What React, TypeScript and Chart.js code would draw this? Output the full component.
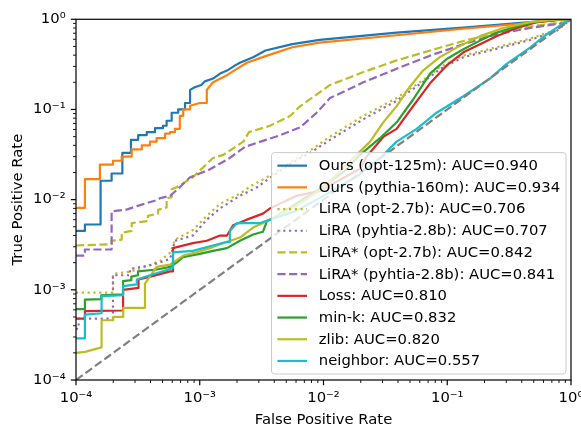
import { useEffect, useRef } from "react";
import { Chart, registerables } from "chart.js";

Chart.register(...registerables);

type Pt = [number, number];

// ROC points (false positive rate, true positive rate)
const OURS_OPT: Pt[] = [
  [1e-4, 0.0045], [1.18e-4, 0.0045], [1.18e-4, 0.0053], [1.58e-4, 0.0053], [1.58e-4, 0.0162],
  [1.94e-4, 0.0162], [1.94e-4, 0.0195], [2.37e-4, 0.0195], [2.37e-4, 0.033], [2.78e-4, 0.033],
  [2.78e-4, 0.046], [3.18e-4, 0.046], [3.18e-4, 0.052], [3.73e-4, 0.052], [3.73e-4, 0.056],
  [4.35e-4, 0.056], [4.35e-4, 0.062], [5.04e-4, 0.062], [5.04e-4, 0.066], [5.4e-4, 0.066],
  [5.4e-4, 0.075], [5.93e-4, 0.075], [5.93e-4, 0.092], [6.7e-4, 0.092], [6.7e-4, 0.1],
  [7.6e-4, 0.1], [7.6e-4, 0.118], [8.35e-4, 0.118], [8.35e-4, 0.165], [9.1e-4, 0.176],
  [1.03e-3, 0.187], [1.1e-3, 0.205], [1.28e-3, 0.22], [1.46e-3, 0.25], [1.66e-3, 0.27],
  [1.95e-3, 0.31], [2.11e-3, 0.33], [2.7e-3, 0.38], [3.4e-3, 0.45], [5.6e-3, 0.53],
  [9.3e-3, 0.59], [0.039, 0.71], [0.135, 0.81], [0.467, 0.93], [0.8, 0.99], [1, 1],
];
const OURS_PYTHIA: Pt[] = [
  [1e-4, 0.0081], [1.18e-4, 0.0081], [1.18e-4, 0.0169], [1.56e-4, 0.0169], [1.56e-4, 0.0245],
  [1.99e-4, 0.0245], [1.99e-4, 0.027], [2.34e-4, 0.027], [2.34e-4, 0.03], [2.82e-4, 0.03],
  [2.82e-4, 0.036], [3.4e-4, 0.036], [3.4e-4, 0.04], [3.96e-4, 0.04], [3.96e-4, 0.044],
  [4.48e-4, 0.044], [4.48e-4, 0.048], [5.24e-4, 0.048], [5.24e-4, 0.054], [5.75e-4, 0.054],
  [5.75e-4, 0.056], [6.3e-4, 0.056], [6.3e-4, 0.061], [6.9e-4, 0.061], [6.9e-4, 0.085],
  [7.35e-4, 0.085], [7.35e-4, 0.1], [8.35e-4, 0.1], [8.35e-4, 0.11], [1e-3, 0.118],
  [1.14e-3, 0.118], [1.14e-3, 0.165], [1.28e-3, 0.2], [1.66e-3, 0.24], [1.98e-3, 0.28],
  [2.4e-3, 0.33], [3.4e-3, 0.39], [5.6e-3, 0.49], [9.3e-3, 0.55], [0.039, 0.665],
  [0.135, 0.785], [0.467, 0.91], [0.85, 0.99], [1, 1],
];
const LIRA_OPT: Pt[] = [
  [1e-4, 9.3e-4], [1.99e-4, 9.3e-4], [1.99e-4, 1.5e-3], [2.8e-4, 1.6e-3], [3.6e-4, 1.8e-3],
  [4.8e-4, 2.1e-3], [5.8e-4, 2.6e-3], [6.3e-4, 3.6e-3], [8.8e-4, 4.6e-3], [1.14e-3, 6.6e-3],
  [1.46e-3, 9e-3], [2.1e-3, 0.0116], [2.6e-3, 0.0142], [3.7e-3, 0.0185], [5.4e-3, 0.026],
  [7.8e-3, 0.035], [0.0113, 0.05], [0.021, 0.085], [0.039, 0.134], [0.0726, 0.24],
  [0.087, 0.295], [0.135, 0.395], [0.25, 0.49], [0.467, 0.61], [0.77, 0.77], [1, 1],
];
const LIRA_PYTHIA: Pt[] = [
  [1e-4, 3.7e-4], [1.05e-4, 3.7e-4], [1.05e-4, 4.8e-4], [1.99e-4, 4.8e-4], [1.99e-4, 1.45e-3],
  [2.73e-4, 1.45e-3], [2.73e-4, 1.7e-3], [4.2e-4, 1.9e-3], [5.75e-4, 2.2e-3], [6.3e-4, 3.5e-3],
  [8.8e-4, 4e-3], [1.14e-3, 6e-3], [1.46e-3, 8e-3], [2.1e-3, 0.011], [2.9e-3, 0.0137],
  [3.7e-3, 0.0175], [5.4e-3, 0.025], [7.8e-3, 0.033], [0.0113, 0.046], [0.021, 0.078],
  [0.039, 0.125], [0.0726, 0.23], [0.087, 0.28], [0.135, 0.38], [0.25, 0.47], [0.467, 0.59],
  [0.77, 0.75], [1, 1],
];
const LIRA_STAR_OPT: Pt[] = [
  [1e-4, 0.0031], [1.94e-4, 0.0032], [1.94e-4, 0.0035], [2.34e-4, 0.0036], [2.34e-4, 0.0043],
  [2.82e-4, 0.0045], [2.82e-4, 0.0055], [3.81e-4, 0.0058], [3.81e-4, 0.0066], [4.6e-4, 0.007],
  [4.6e-4, 0.0077], [5.4e-4, 0.0082], [5.4e-4, 0.0104], [5.93e-4, 0.0106], [5.93e-4, 0.013],
  [6.5e-4, 0.0137], [8.8e-4, 0.0177], [1.28e-3, 0.029], [1.55e-3, 0.0314], [2.25e-3, 0.044],
  [2.5e-3, 0.056], [3.7e-3, 0.066], [5.4e-3, 0.085], [6.5e-3, 0.109], [0.0113, 0.187],
  [0.021, 0.26], [0.039, 0.35], [0.0726, 0.45], [0.135, 0.575], [0.25, 0.71], [0.467, 0.83],
  [0.88, 0.93], [1, 1],
];
const LIRA_STAR_PYTHIA: Pt[] = [
  [1e-4, 0.0024], [1.18e-4, 0.0024], [1.18e-4, 0.0028], [1.94e-4, 0.0028], [1.94e-4, 0.0074],
  [2.6e-4, 0.0078], [3.3e-4, 0.0087], [4.4e-4, 0.0098], [4.8e-4, 0.0104], [5.75e-4, 0.011],
  [6.9e-4, 0.0137], [8.3e-4, 0.0176], [1.2e-3, 0.0216], [1.75e-3, 0.029], [2.33e-3, 0.0386],
  [3.1e-3, 0.044], [4.45e-3, 0.0517], [6.5e-3, 0.0635], [8.8e-3, 0.092], [0.0113, 0.134],
  [0.021, 0.2], [0.039, 0.283], [0.0726, 0.395], [0.135, 0.53], [0.25, 0.68], [0.467, 0.8],
  [0.88, 0.91], [1, 1],
];
const LOSS: Pt[] = [
  [1e-4, 4.8e-4], [1.18e-4, 4.8e-4], [1.18e-4, 5.8e-4], [2.4e-4, 5.9e-4], [2.4e-4, 1e-3],
  [3.2e-4, 1.05e-3], [3.2e-4, 1.3e-3], [4e-4, 1.4e-3], [5.75e-4, 1.6e-3], [6.08e-4, 1.6e-3],
  [6.08e-4, 2.9e-3], [8.8e-4, 3.3e-3], [1.14e-3, 3.5e-3], [1.46e-3, 4e-3], [1.66e-3, 4e-3],
  [1.86e-3, 5.2e-3], [2.4e-3, 6e-3], [3.24e-3, 7e-3], [3.7e-3, 8e-3], [6e-3, 0.011],
  [9.4e-3, 0.0125], [0.0197, 0.022], [0.0223, 0.03], [0.0304, 0.0496], [0.039, 0.061],
  [0.053, 0.109], [0.0726, 0.195], [0.099, 0.308], [0.135, 0.43], [0.184, 0.53], [0.25, 0.65],
  [0.363, 0.8], [0.53, 0.93], [0.8, 0.99], [1, 1],
];
const MIN_K: Pt[] = [
  [1e-4, 6.1e-4], [1.18e-4, 6.1e-4], [1.18e-4, 7.8e-4], [1.6e-4, 7.9e-4], [1.6e-4, 8.7e-4],
  [2.4e-4, 8.9e-4], [2.4e-4, 1.25e-3], [2.8e-4, 1.28e-3], [2.8e-4, 1.4e-3], [3.17e-4, 1.45e-3],
  [3.17e-4, 1.6e-3], [4.5e-4, 1.68e-3], [5.75e-4, 1.8e-3], [6.5e-4, 2e-3], [7.3e-4, 2.3e-3],
  [1e-3, 2.5e-3], [1.28e-3, 2.7e-3], [1.66e-3, 2.9e-3], [2.11e-3, 3.5e-3], [2.7e-3, 4.1e-3],
  [3.24e-3, 4.4e-3], [3.5e-3, 5.8e-3], [3.9e-3, 6.2e-3], [6e-3, 9e-3], [0.01, 0.014],
  [0.015, 0.021], [0.0197, 0.0314], [0.0286, 0.048], [0.039, 0.072], [0.053, 0.129],
  [0.0726, 0.25], [0.099, 0.363], [0.135, 0.466], [0.184, 0.58], [0.25, 0.71], [0.363, 0.834],
  [0.53, 0.94], [0.8, 0.99], [1, 1],
];
const ZLIB: Pt[] = [
  [1e-4, 2e-4], [1.18e-4, 2.05e-4], [1.61e-4, 2.3e-4], [1.61e-4, 4.6e-4], [2e-4, 4.6e-4],
  [2e-4, 5e-4], [2.41e-4, 5e-4], [2.41e-4, 6.3e-4], [3.61e-4, 6.3e-4], [3.61e-4, 1.17e-3],
  [4.48e-4, 1.8e-3], [5.75e-4, 1.9e-3], [7.35e-4, 2.4e-3], [9.4e-4, 2.6e-3], [1.21e-3, 2.9e-3],
  [1.46e-3, 3.2e-3], [2.11e-3, 3.8e-3], [2.7e-3, 4.9e-3], [3.5e-3, 5.8e-3], [6e-3, 8.5e-3],
  [0.01, 0.0135], [0.0164, 0.0266], [0.0238, 0.044], [0.0304, 0.072], [0.039, 0.109],
  [0.05, 0.18], [0.064, 0.272], [0.087, 0.38], [0.119, 0.485], [0.184, 0.65], [0.284, 0.8],
  [0.467, 0.93], [0.75, 0.99], [1, 1],
];
const NEIGHBOR: Pt[] = [
  [1e-4, 2.9e-4], [1.18e-4, 2.9e-4], [1.18e-4, 5.3e-4], [1.61e-4, 5.5e-4], [1.61e-4, 8.5e-4],
  [2.4e-4, 8.7e-4], [2.4e-4, 1.1e-3], [3.1e-4, 1.15e-3], [3.1e-4, 1.3e-3], [3.96e-4, 1.45e-3],
  [5.75e-4, 1.7e-3], [6.08e-4, 1.75e-3], [6.08e-4, 2.6e-3], [8.8e-4, 2.7e-3], [1.28e-3, 3.1e-3],
  [1.66e-3, 3.4e-3], [1.75e-3, 3.4e-3], [1.75e-3, 4.5e-3], [2e-3, 5.5e-3], [3.08e-3, 5.5e-3],
  [3.7e-3, 6e-3], [6e-3, 7.5e-3], [0.01, 0.011], [0.0197, 0.019], [0.0286, 0.029],
  [0.039, 0.044], [0.0566, 0.061], [0.082, 0.092], [0.135, 0.14], [0.221, 0.22], [0.302, 0.32],
  [0.467, 0.485], [0.635, 0.68], [0.867, 0.9], [1, 1],
];
const CHANCE: Pt[] = [[1e-4, 1e-4], [1, 1]];

const SERIES = [OURS_OPT, OURS_PYTHIA, LIRA_OPT, LIRA_PYTHIA, LIRA_STAR_OPT, LIRA_STAR_PYTHIA, LOSS, MIN_K, ZLIB, NEIGHBOR];
const LABELS = [
  "Ours (opt-125m): AUC=0.940",
  "Ours (pythia-160m): AUC=0.934",
  "LiRA (opt-2.7b): AUC=0.706",
  "LiRA (pyhtia-2.8b): AUC=0.707",
  "LiRA* (opt-2.7b): AUC=0.842",
  "LiRA* (pyhtia-2.8b): AUC=0.841",
  "Loss: AUC=0.810",
  "min-k: AUC=0.832",
  "zlib: AUC=0.820",
  "neighbor: AUC=0.557",
];
const DECADES = [1e-4, 1e-3, 1e-2, 1e-1, 1];
const DECADE_LABELS = ["10⁻⁴", "10⁻³", "10⁻²", "10⁻¹", "10⁰"];

// matplotlib look (10pt text, 1.5pt lines at ~107 dpi)
const FONT = 14.8;
const LW = 2.2;
const DASHED = [8.2, 3.5];
const DOTTED = [2.2, 3.6];
const COLORS = ["#1f77b4", "#ff7f0e", "#bcbd22", "#9467bd", "#bcbd22", "#9467bd", "#d62728", "#2ca02c", "#bcbd22", "#17becf"];
const DASHES = [[], [], DOTTED, DOTTED, DASHED, DASHED, [], [], [], []];

const isDecade = (v: number) => DECADES.some((d) => Math.abs(Math.log10(v) - Math.log10(d)) < 1e-6);
const logTicks = () => {
  const out: { value: number }[] = [];
  DECADES.slice(0, -1).forEach((d) => {
    for (let k = 1; k < 10; k++) out.push({ value: k * d });
  });
  out.push({ value: DECADES[DECADES.length - 1] });
  return out;
};
const tickLabel = (v: number | string) => {
  const i = DECADES.findIndex((d) => Math.abs(Math.log10(Number(v)) - Math.log10(d)) < 1e-6);
  return i >= 0 ? DECADE_LABELS[i] : "";
};

// spines, outward tick marks and the framed legend, drawn like matplotlib
const axesDecor = {
  id: "axesDecor",
  afterDraw(chart: any) {
    const { ctx, chartArea: a } = chart;
    const xs = chart.scales.x;
    const ys = chart.scales.y;
    ctx.save();
    ctx.strokeStyle = "#000";
    ctx.setLineDash([]);
    ctx.lineWidth = 1.2;
    ctx.strokeRect(a.left, a.top, a.right - a.left, a.bottom - a.top);
    for (const t of xs.ticks) {
      const p = xs.getPixelForValue(t.value);
      const major = isDecade(t.value);
      ctx.lineWidth = major ? 1.2 : 0.9;
      ctx.beginPath();
      ctx.moveTo(p, a.bottom);
      ctx.lineTo(p, a.bottom + (major ? 5.2 : 3));
      ctx.stroke();
    }
    for (const t of ys.ticks) {
      const p = ys.getPixelForValue(t.value);
      const major = isDecade(t.value);
      ctx.lineWidth = major ? 1.2 : 0.9;
      ctx.beginPath();
      ctx.moveTo(a.left, p);
      ctx.lineTo(a.left - (major ? 5.2 : 3), p);
      ctx.stroke();
    }

    const items = chart.data.datasets.filter((d: any) => d.label);
    ctx.font = `${FONT}px "DejaVu Sans"`;
    const maxW = Math.max(...items.map((d: any) => ctx.measureText(d.label).width));
    const pad = 5.9, handle = 29.6, gap = 11.8, textH = 14.3, spacing = 7.4;
    const w = pad + handle + gap + maxW + pad;
    const h = 2 * pad + items.length * textH + (items.length - 1) * spacing;
    const right = a.right - 5;
    const bottom = a.bottom - 6;
    const left = right - w;
    const top = bottom - h;
    ctx.beginPath();
    ctx.roundRect(left, top, w, h, 3);
    ctx.fillStyle = "rgba(255,255,255,0.8)";
    ctx.fill();
    ctx.strokeStyle = "#cccccc";
    ctx.lineWidth = 1;
    ctx.stroke();
    items.forEach((d: any, i: number) => {
      const cy = top + pad + textH / 2 + i * (textH + spacing);
      ctx.strokeStyle = d.borderColor;
      ctx.lineWidth = d.borderWidth;
      ctx.setLineDash(d.borderDash);
      ctx.beginPath();
      ctx.moveTo(left + pad, cy);
      ctx.lineTo(left + pad + handle, cy);
      ctx.stroke();
      ctx.setLineDash([]);
      ctx.fillStyle = "#000";
      ctx.textBaseline = "middle";
      ctx.textAlign = "left";
      ctx.fillText(d.label, left + pad + handle + gap, cy + 0.5);
    });
    ctx.restore();
  },
};

export default function App() {
  const canvasRef = useRef<HTMLCanvasElement>(null);

  useEffect(() => {
    if (!canvasRef.current) return;
    const font = { family: "'DejaVu Sans', sans-serif", size: FONT };
    const datasets: any[] = SERIES.map((s, i) => ({
      label: LABELS[i],
      data: s.map(([x, y]) => ({ x, y })),
      borderColor: COLORS[i],
      borderDash: DASHES[i],
      borderWidth: LW,
      borderJoinStyle: "round",
      pointRadius: 0,
      fill: false,
      tension: 0,
      order: 20 - i,
    }));
    datasets.push({
      label: "",
      data: CHANCE.map(([x, y]) => ({ x, y })),
      borderColor: "#808080",
      borderDash: DASHED,
      borderWidth: LW,
      pointRadius: 0,
      fill: false,
      order: 0,
    });

    const chart = new Chart(canvasRef.current, {
      type: "line",
      data: { datasets },
      options: {
        animation: false,
        responsive: false,
        events: [],
        layout: { padding: { top: 11, right: 29, left: 0, bottom: 0 } },
        plugins: { legend: { display: false }, tooltip: { enabled: false } },
        scales: {
          x: {
            type: "logarithmic",
            min: 1e-4,
            max: 1,
            grid: { display: false, drawTicks: false },
            border: { display: false },
            afterBuildTicks: (scale: any) => {
              scale.ticks = logTicks();
            },
            afterFit: (scale: any) => {
              scale.height = 50;
            },
            ticks: {
              autoSkip: false,
              maxRotation: 0,
              minRotation: 0,
              padding: 9,
              color: "#000",
              font,
              callback: (v: any) => tickLabel(v),
            },
            title: {
              display: true,
              text: "False Positive Rate",
              color: "#000",
              font,
              padding: { top: 0, bottom: 1 },
            },
          },
          y: {
            type: "logarithmic",
            min: 1e-4,
            max: 1,
            grid: { display: false, drawTicks: false },
            border: { display: false },
            afterBuildTicks: (scale: any) => {
              scale.ticks = logTicks();
            },
            afterFit: (scale: any) => {
              scale.width = 76;
            },
            ticks: {
              autoSkip: false,
              padding: 10.4,
              color: "#000",
              font,
              callback: (v: any) => tickLabel(v),
            },
            title: {
              display: true,
              text: "True Positive Rate",
              color: "#000",
              font,
              padding: { top: 9.6, bottom: 0 },
            },
          },
        },
      },
      plugins: [axesDecor],
    });

    return () => chart.destroy();
  }, []);

  return (
    <div style={{ position: "fixed", left: 0, top: 0, width: 581, height: 430, overflow: "hidden", background: "#fff" }}>
      <canvas ref={canvasRef} width={600} height={430} style={{ width: 600, height: 430, display: "block" }} />
    </div>
  );
}
